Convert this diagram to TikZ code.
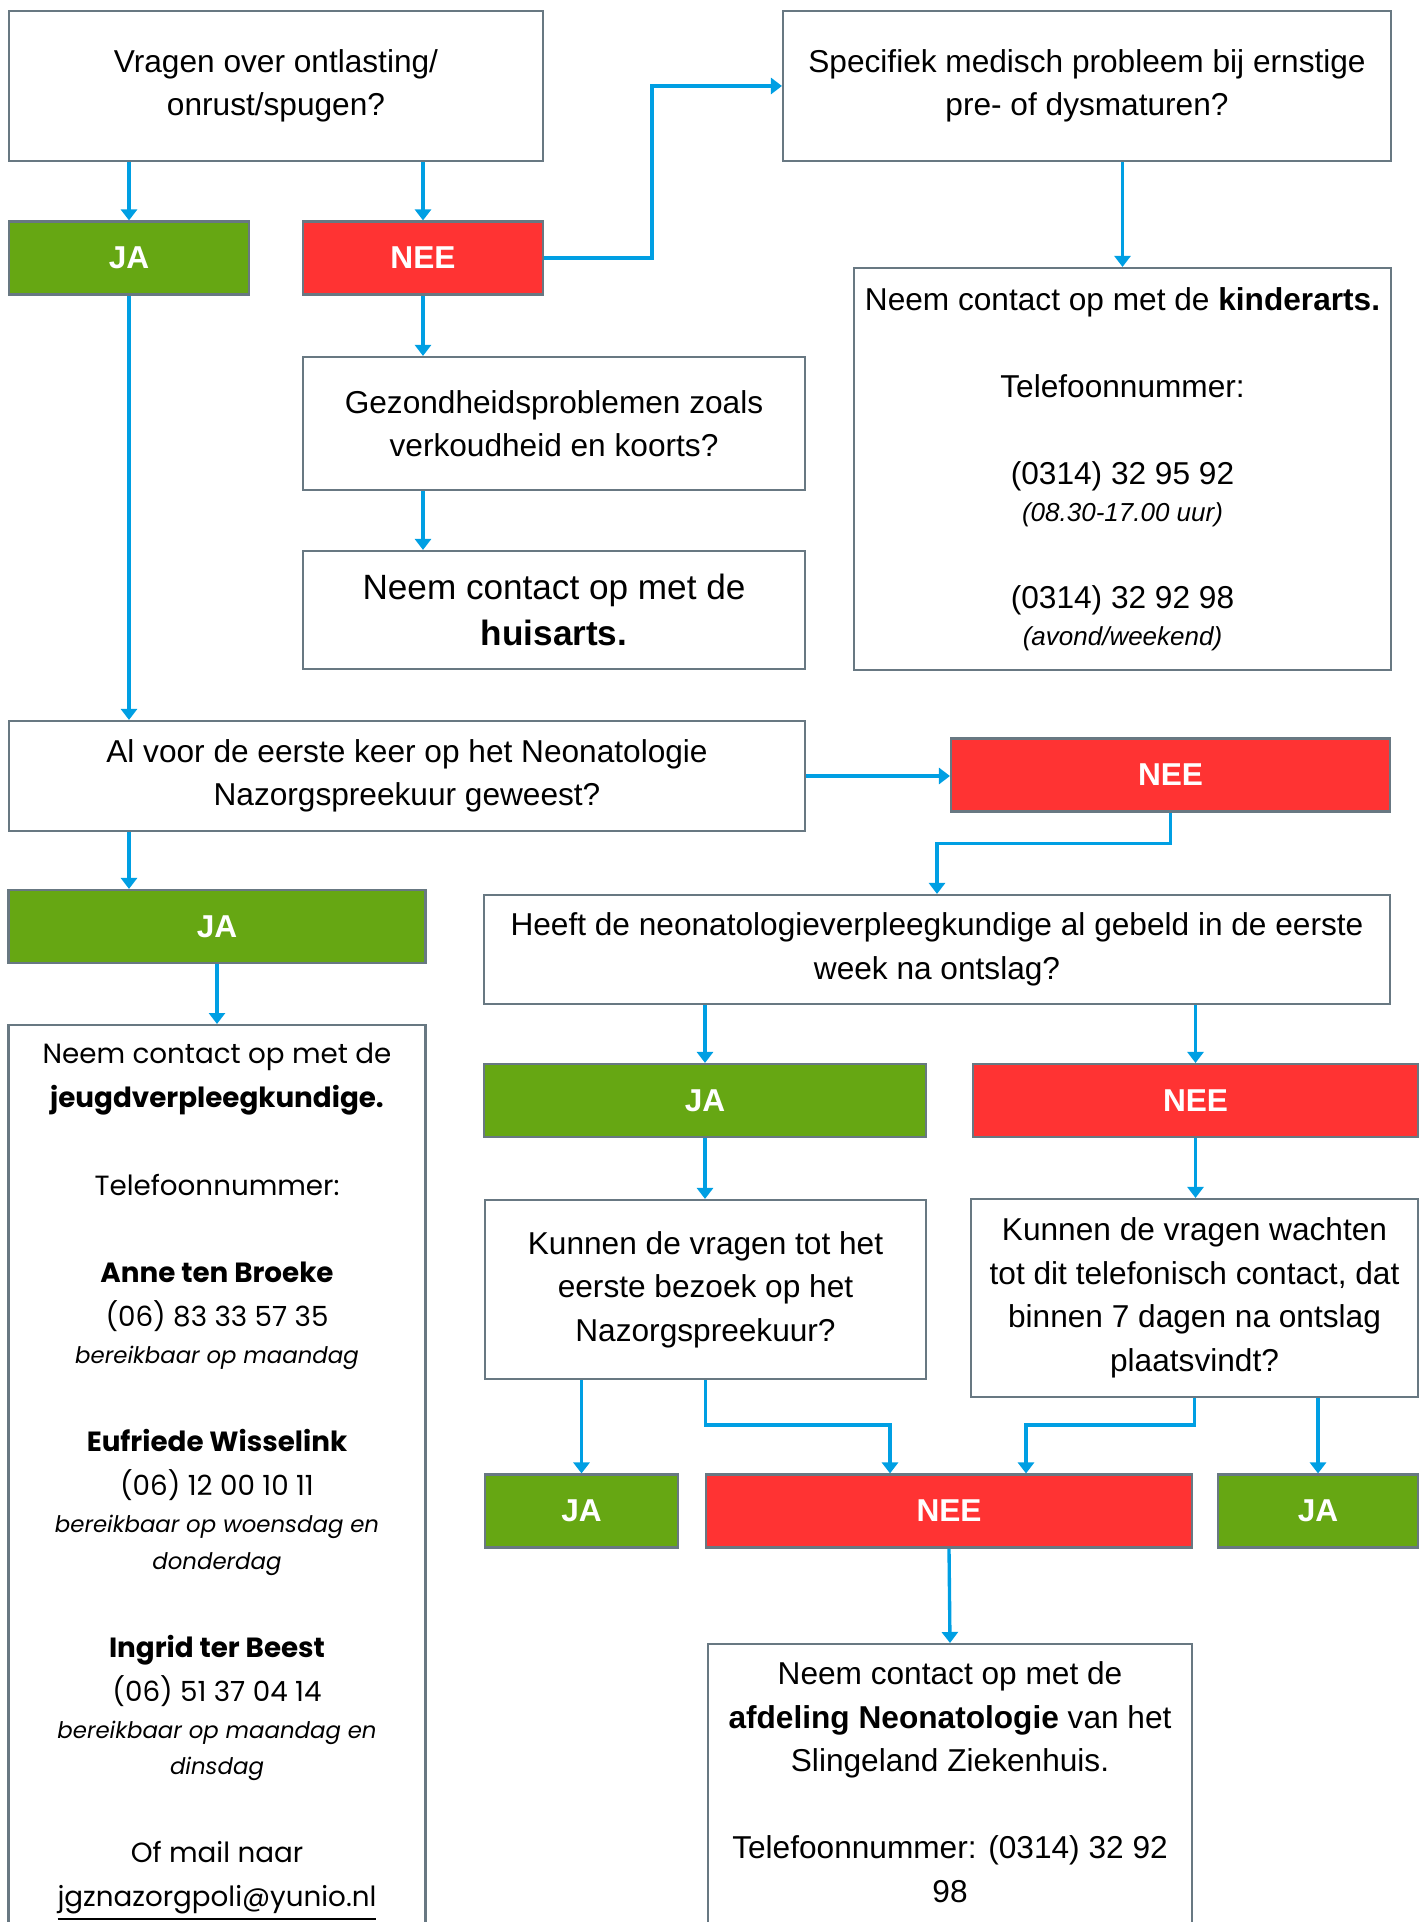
\documentclass[tikz,border=0pt]{standalone}
\usepackage{fontspec}
\setmainfont{Liberation Sans}
\newfontfamily\geofont{Poppins}
\usetikzlibrary{arrows.meta,calc}
\definecolor{jagreen}{HTML}{66A713}
\definecolor{neered}{HTML}{FF3333}
\definecolor{flowblue}{HTML}{009FE3}
\definecolor{boxgray}{HTML}{687882}

\begin{document}
\begin{tikzpicture}[x=0.1mm,y=-0.1mm]
    % Setup the styles for the boxes and arrows
        \tikzset{question/.style={draw=boxgray,
                                  line width=0.6pt,
                                  fill=white,
                                  inner sep=0pt,
                                  align=center,
                                  font=\fontsize{9}{12.4}\selectfont},
                 answer/.style={draw=boxgray,
                                line width=0.6pt,
                                inner sep=0pt,
                                minimum height=7.3mm,
                                text=white,
                                font=\fontsize{9}{12}\selectfont\bfseries},
                 jabox/.style={answer, fill=jagreen},
                 neebox/.style={answer, fill=neered},
                 flow/.style={draw=flowblue,
                              line width=0.95pt,
                              -{Triangle[length=1.1mm,width=1.6mm]}}}

        \useasboundingbox (0,0) rectangle (1424,1922);
        \clip (0,0) rectangle (1424,1922);

        % Draw the questions and answers
        \node[question, minimum width=53.4mm, minimum height=15mm] at (276,86)   (q1)   {Vragen over ontlasting/\\onrust/spugen?};
        \node[jabox, minimum width=24mm]                           at (129,258)  (ja1)  {JA};
        \node[neebox, minimum width=24mm]                          at (423,258)  (nee1) {NEE};
        \node[question, minimum width=60.8mm, minimum height=15mm] at (1087,86)  (q2)   {Specifiek medisch probleem bij ernstige\\pre- of dysmaturen?};
        \node[question, minimum width=53.7mm, minimum height=40.2mm] at (1122.5,469) (kinder)
            {Neem contact op met de \textbf{kinderarts.}\\[12.4pt]
             Telefoonnummer:\\[12.4pt]
             (0314) 32 95 92\\[-2pt]
             {\itshape\fontsize{7.4}{10}\selectfont (08.30-17.00 uur)}\\[12.4pt]
             (0314) 32 92 98\\[-2pt]
             {\itshape\fontsize{7.4}{10}\selectfont (avond/weekend)}};
        \node[question, minimum width=50.2mm, minimum height=13.3mm] at (554,423.5) (gez)  {Gezondheidsproblemen zoals\\verkoudheid en koorts?};
        \node[question, minimum width=50.2mm, minimum height=11.8mm,
              font=\fontsize{10}{13.2}\selectfont]                 at (554,610)  (huis) {Neem contact op met de\\\textbf{huisarts.}};
        \node[question, minimum width=79.6mm, minimum height=11mm] at (407,776)  (q3)   {Al voor de eerste keer op het Neonatologie\\Nazorgspreekuur geweest?};
        \node[neebox, minimum width=43.9mm]                        at (1170.5,775) (nee2) {NEE};
        \node[jabox, minimum width=41.7mm]                         at (217,926.5) (ja2) {JA};
        \node[question, minimum width=90.6mm, minimum height=10.9mm] at (937,949.5) (q4) {Heeft de neonatologieverpleegkundige al gebeld in de eerste\\week na ontslag?};
        \node[jabox, minimum width=44.2mm]                         at (705,1100.5)  (ja3)  {JA};
        \node[neebox, minimum width=44.5mm]                        at (1195.5,1100.5) (nee3) {NEE};
        \node[question, minimum width=44.1mm, minimum height=17.9mm] at (705.5,1289.5) (q5) {Kunnen de vragen tot het\\eerste bezoek op het\\Nazorgspreekuur?};
        \node[question, minimum width=44.7mm, minimum height=19.8mm] at (1194.5,1298) (q6)  {Kunnen de vragen wachten\\tot dit telefonisch contact, dat\\binnen 7 dagen na ontslag\\plaatsvindt?};
        \node[jabox, minimum width=19.3mm]                         at (581.5,1511) (ja4)  {JA};
        \node[neebox, minimum width=48.6mm]                        at (949,1511)   (nee4) {NEE};
        \node[jabox, minimum width=20mm]                           at (1318,1511)  (ja5)  {JA};

        % The two contact boxes run off the bottom of the page
        \node[question, anchor=north, minimum width=41.7mm, minimum height=92mm] at (217,1024) (jeugd) {};
        \node[anchor=north, align=center, inner sep=0pt,
              font=\geofont\fontsize{7.9}{12.5}\selectfont] at ($(jeugd.north)+(0,18)$) (jeugdtext)
            {Neem contact op met de\\
             \textbf{jeugdverpleegkundige.}\\[12.5pt]
             Telefoonnummer:\\[12.5pt]
             \textbf{Anne ten Broeke}\\
             (06) 83 33 57 35\\[-2pt]
             {\itshape\fontsize{6.5}{10}\selectfont bereikbaar op maandag}\\[12.5pt]
             \textbf{Eufriede Wisselink}\\
             (06) 12 00 10 11\\[-2pt]
             {\itshape\fontsize{6.5}{10}\selectfont bereikbaar op woensdag en}\\[-2pt]
             {\itshape\fontsize{6.5}{10}\selectfont donderdag}\\[12.5pt]
             \textbf{Ingrid ter Beest}\\
             (06) 51 37 04 14\\[-2pt]
             {\itshape\fontsize{6.5}{10}\selectfont bereikbaar op maandag en}\\[-2pt]
             {\itshape\fontsize{6.5}{10}\selectfont dinsdag}\\[12.5pt]
             Of mail naar\\
             \underline{jgznazorgpoli@yunio.nl}};
        \node[question, anchor=north, minimum width=48.4mm, minimum height=30mm] at (950,1643) (final) {};
        \node[anchor=north, align=center, inner sep=0pt,
              font=\fontsize{9}{12.4}\selectfont] at ($(final.north)+(0,18)$) (finaltext)
            {Neem contact op met de\\
             \textbf{afdeling Neonatologie} van het\\
             Slingeland Ziekenhuis.\\[12.4pt]
             Telefoonnummer: (0314) 32 92\\
             98};

        % Connect the boxes with arrows
        \draw[flow] (q1.south -| ja1) -- (ja1.north);
        \draw[flow] (q1.south -| nee1) -- (nee1.north);
        \draw[flow] (nee1.east) -- ++(108,0) |- (q2.west);
        \draw[flow] (q2.south -| kinder) -- (kinder.north);
        \draw[flow] (nee1.south) -- (gez.north -| nee1.south);
        \draw[flow] (gez.south -| nee1) -- (huis.north -| nee1);
        \draw[flow] (ja1.south) -- (q3.north -| ja1.south);
        \draw[flow] (q3.east) -- (q3.east -| nee2.west);
        \draw[flow] (nee2.south) -- ++(0,31) -| (q4.north);
        \draw[flow] (q3.south -| ja1.south) -- (ja2.north -| ja1.south);
        \draw[flow] (ja2.south) -- (jeugd.north);
        \draw[flow] (q4.south -| ja3) -- (ja3.north);
        \draw[flow] (q4.south -| nee3) -- (nee3.north);
        \draw[flow] (ja3.south) -- (q5.north -| ja3.south);
        \draw[flow] (nee3.south) -- (q6.north -| nee3.south);
        \draw[flow] (q5.south -| ja4) -- (ja4.north);
        \draw[flow] (q5.south) -- ++(0,45) -| ([xshift=-5.9mm]nee4.north);
        \draw[flow] (q6.south) -- ++(0,27) -| ([xshift=7.7mm]nee4.north);
        \draw[flow] (q6.south -| ja5) -- (ja5.north);
        \draw[flow] (nee4.south) -- (final.north);
\end{tikzpicture}
\end{document}
